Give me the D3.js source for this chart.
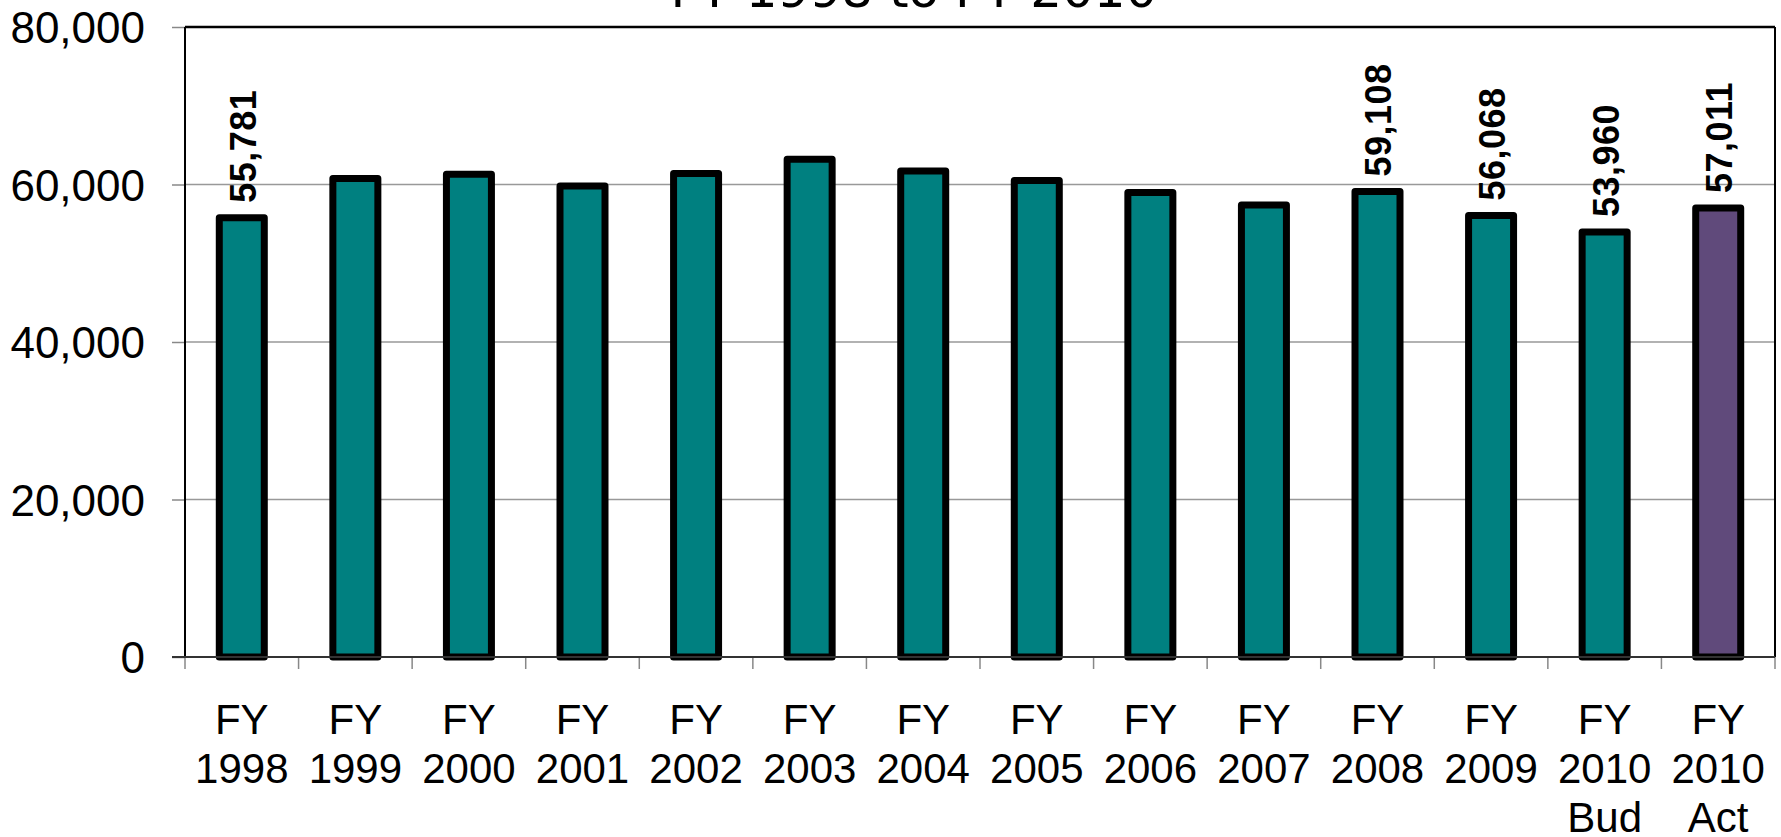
<!DOCTYPE html>
<html><head><meta charset="utf-8">
<script src="https://cdn.jsdelivr.net/npm/d3@7"></script>
<style>body{margin:0;background:#fff}svg{display:block}</style>
</head><body>
<svg id="c" width="1781" height="837"></svg>
<script>
const categories = [["FY","1998"],["FY","1999"],["FY","2000"],["FY","2001"],["FY","2002"],["FY","2003"],["FY","2004"],["FY","2005"],["FY","2006"],["FY","2007"],["FY","2008"],["FY","2009"],["FY","2010","Bud"],["FY","2010","Act"]];
const values = [55781, 60750, 61300, 59800, 61400, 63200, 61700, 60500, 59000, 57400, 59108, 56068, 53960, 57011];
const valueLabels = ["55,781", null, null, null, null, null, null, null, null, null, "59,108", "56,068", "53,960", "57,011"];
const barColors = ["#008080","#008080","#008080","#008080","#008080","#008080","#008080","#008080","#008080","#008080","#008080","#008080","#008080","#604a7b"];
const yTicks = [0, 20000, 40000, 60000, 80000];
const titleText = "FY 1998 to FY 2010";

const svg = d3.select("#c");
const L = 185, R = 1775, T = 27, B = 657;
const x = d3.scaleBand().domain(d3.range(categories.length)).range([L, R]).padding(0);
const y = d3.scaleLinear().domain([0, 80000]).range([B, T]);

// title (cut off at top)
svg.append("text").attr("x", 914).attr("y", 7).attr("text-anchor", "middle")
  .attr("font-family", "DejaVu Sans").attr("font-size", 50).attr("fill", "#000").text(titleText);

// gridlines
svg.append("g").selectAll("line").data(yTicks.filter(d => d > 0)).join("line")
  .attr("x1", L).attr("x2", R).attr("y1", d => y(d)).attr("y2", d => y(d))
  .attr("stroke", "#999").attr("stroke-width", 1.5);

// y axis
const ya = svg.append("g").attr("transform", `translate(${L},0)`)
  .call(d3.axisLeft(y).tickValues(yTicks).tickSize(13).tickPadding(27).tickFormat(d3.format(",")));
ya.select(".domain").remove();
ya.selectAll(".tick line").attr("stroke", "#888").attr("stroke-width", 1.5);
ya.selectAll(".tick text").attr("font-family", "Liberation Sans, Arial").attr("font-size", 44).attr("fill", "#000").attr("dy", "0.36em");

// x ticks at band boundaries
const bounds = d3.range(categories.length + 1).map(i => i < categories.length ? x(i) : R);
svg.append("g").selectAll("line").data(bounds).join("line")
  .attr("x1", d => d).attr("x2", d => d).attr("y1", B).attr("y2", B + 12)
  .attr("stroke", "#888").attr("stroke-width", 1.5);

// bars
const bw = 45;
svg.append("g").selectAll("rect").data(values).join("rect")
  .attr("x", (d, i) => x(i) + x.bandwidth() / 2 - bw / 2)
  .attr("y", d => y(d))
  .attr("width", bw)
  .attr("height", d => B - y(d))
  .attr("fill", (d, i) => barColors[i])
  .attr("stroke", "#000").attr("stroke-width", 7).attr("stroke-linejoin", "round");

// plot frame
svg.append("line").attr("x1", L).attr("x2", R).attr("y1", T).attr("y2", T).attr("stroke", "#000").attr("stroke-width", 2.5);
svg.append("line").attr("x1", R).attr("x2", R).attr("y1", T).attr("y2", B).attr("stroke", "#000").attr("stroke-width", 2);
svg.append("line").attr("x1", L).attr("x2", L).attr("y1", T).attr("y2", B).attr("stroke", "#000").attr("stroke-width", 2);
svg.append("line").attr("x1", L - 13).attr("x2", R).attr("y1", B).attr("y2", B).attr("stroke", "#333").attr("stroke-width", 2);

// value labels
svg.append("g").selectAll("text").data(values.map((v, i) => ({v, i, t: valueLabels[i]})).filter(d => d.t)).join("text")
  .attr("transform", d => `translate(${x(d.i) + x.bandwidth() / 2 + 1},${y(d.v) - 15}) rotate(-90)`)
  .attr("dy", "0.36em")
  .attr("font-family", "Liberation Sans, Arial").attr("font-weight", "bold").attr("font-size", 36).attr("fill", "#000")
  .attr("letter-spacing", 0.5)
  .text(d => d.t);

// x labels
const xl = svg.append("g").selectAll("text").data(categories).join("text")
  .attr("x", (d, i) => x(i) + x.bandwidth() / 2).attr("text-anchor", "middle")
  .attr("font-family", "Liberation Sans, Arial").attr("font-size", 42).attr("fill", "#000");
xl.selectAll("tspan").data(d => d).join("tspan")
  .attr("x", function () { return d3.select(this.parentNode).attr("x"); })
  .attr("y", (d, j) => 734 + j * 49).text(d => d);
</script>
</body></html>
